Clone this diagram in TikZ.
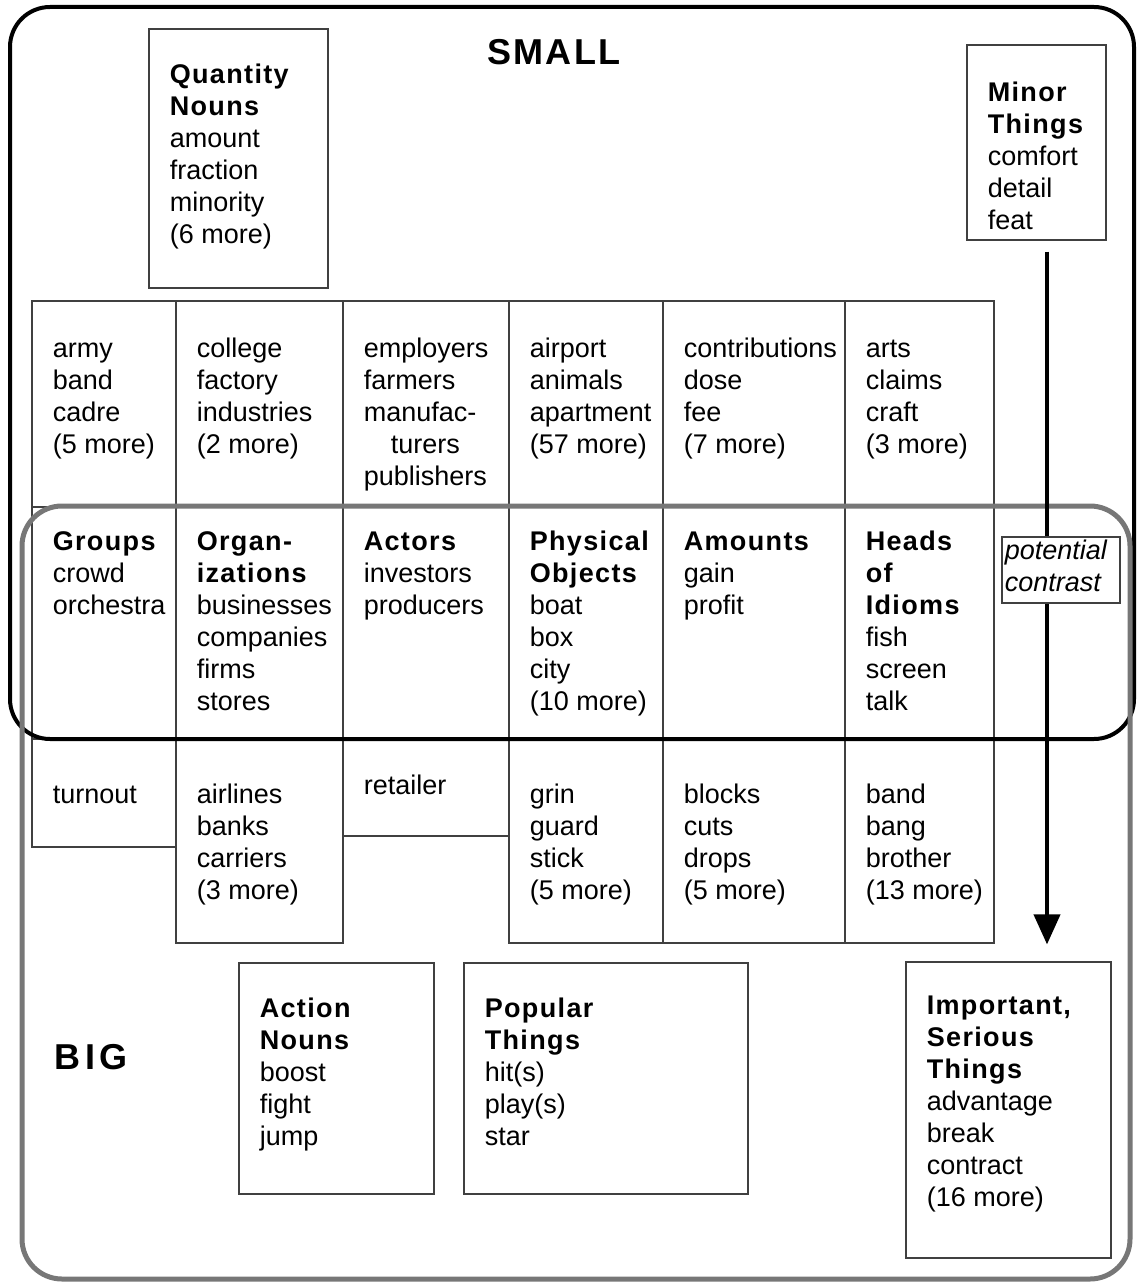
\documentclass[tikz,border=0pt]{standalone}
\usepackage{fontspec}
\setmainfont{Liberation Sans}
\newfontfamily\catfont[LetterSpace=5]{Liberation Sans}
\newfontfamily\sizefont[LetterSpace=6]{Liberation Sans}
\newfontfamily\widesizefont[LetterSpace=13]{Liberation Sans}
\usetikzlibrary{fit,arrows.meta}
\definecolor{bigline}{HTML}{777777}
\newcommand\cat[1]{{\catfont\bfseries #1}}

\begin{document}
\begin{tikzpicture}[x=.5pt, y=-.5pt, font=\fontsize{13.5}{16}\selectfont]
\tikzset{
  cellbox/.style={draw=black!75, line width=.6pt, inner sep=0pt},
  words/.style={anchor=north west, inner sep=0pt, align=left, shift={#1}},
  words/.default={(21,32.6)},
  smallframe/.style={line width=2pt, rounded corners=20pt},
  bigframe/.style={draw=bigline, line width=2.5pt, rounded corners=20pt},
  sizelabel/.style={font=\sizefont\bfseries\fontsize{18}{20}\selectfont,
    anchor=base, inner sep=0pt},
  contrast/.style={-{Triangle[length=15pt,width=13pt]}, line width=2pt}
}
\useasboundingbox (0,0) rectangle (1138,1283);

% boxes above and below the grid
\node[cellbox, fit={(149,29) (328,288)}] (quantity) {};
\node[words] (quantity-t) at (quantity.north west)
  {\strut\cat{Quantity}\\\cat{Nouns}\\amount\\fraction\\minority\\(6 more)};
\node[cellbox, fit={(967,45) (1106,240)}] (minor) {};
\node[words={(21,34)}] (minor-t) at (minor.north west)
  {\strut\cat{Minor}\\\cat{Things}\\comfort\\detail\\feat};

\node[cellbox, fit={(239,963) (434,1194)}] (action) {};
\node[words] (action-t) at (action.north west)
  {\strut\cat{Action}\\\cat{Nouns}\\boost\\fight\\jump};
\node[cellbox, fit={(464,963) (748,1194)}] (popular) {};
\node[words] (popular-t) at (popular.north west)
  {\strut\cat{Popular}\\\cat{Things}\\hit(s)\\play(s)\\star};
\node[cellbox, fit={(906,962) (1111,1258)}] (important) {};
\node[words={(21,30.6)}] (important-t) at (important.north west)
  {\strut\cat{Important,}\\\cat{Serious}\\\cat{Things}\\advantage\\break\\contract\\(16 more)};

% the grid
\foreach \xa/\xb/\w [count=\i] in {
  32/176/{army\\band\\cadre\\(5 more)},
  176/343/{college\\factory\\industries\\(2 more)},
  343/509/{employers\\farmers\\manufac-\\\quad turers\\publishers},
  509/663/{airport\\animals\\apartment\\(57 more)},
  663/845/{contributions\\dose\\fee\\(7 more)},
  845/994/{arts\\claims\\craft\\(3 more)}}
{
  \node[cellbox, fit={(\xa,301) (\xb,507)}] (top-\i) {};
  \node[words={(21,34.6)}] (top-\i-t) at (top-\i.north west) {\strut\w};
}

\foreach \xa/\xb/\w [count=\i] in {
  32/176/{\cat{Groups}\\crowd\\orchestra},
  176/343/{\cat{Organ-}\\\cat{izations}\\businesses\\companies\\firms\\stores},
  343/509/{\cat{Actors}\\investors\\producers},
  509/663/{\cat{Physical}\\\cat{Objects}\\boat\\box\\city\\(10 more)},
  663/845/{\cat{Amounts}\\gain\\profit},
  845/994/{\cat{Heads}\\\cat{of}\\\cat{Idioms}\\fish\\screen\\talk}}
{
  \node[cellbox, fit={(\xa,507) (\xb,739)}] (mid-\i) {};
  \node[words={(21,21)}] (mid-\i-t) at (mid-\i.north west) {\strut\w};
}

\foreach \xa/\xb/\yb/\dy/\w [count=\i] in {
  32/176/847/42.6/{turnout},
  176/343/943/42.6/{airlines\\banks\\carriers\\(3 more)},
  343/509/836/33/{retailer},
  509/663/943/42.6/{grin\\guard\\stick\\(5 more)},
  663/845/943/42.6/{blocks\\cuts\\drops\\(5 more)},
  845/994/943/42.6/{band\\bang\\brother\\(13 more)}}
{
  \node[cellbox, fit={(\xa,739) (\xb,\yb)}] (low-\i) {};
  \node[words={(21,\dy)}] (low-\i-t) at (low-\i.north west) {\strut\w};
}

% SMALL and BIG
\draw[smallframe] (10,7) rectangle (1134,739);
\draw[bigframe] (22,506) rectangle (1130,1279);
\node[sizelabel] (small) at (554,65) {SMALL};
\node[sizelabel, font=\widesizefont\bfseries\fontsize{18}{20}\selectfont,
  anchor=base west] (big) at (54,1069) {BIG};

% contrast arrow
\coordinate (arrowx) at (1047,0);
\draw[contrast, shorten <=5.5pt, shorten >=8.5pt]
  (minor.south -| arrowx) -- (important.north -| arrowx);
\node[cellbox, fill=white, fit={(1002,537) (1120,603)}] (potential) {};
\node[words={(3,0)}, font=\fontsize{13.5}{16}\selectfont\itshape]
  (potential-t) at (potential.north west) {\strut potential\\contrast};
\end{tikzpicture}
\end{document}
